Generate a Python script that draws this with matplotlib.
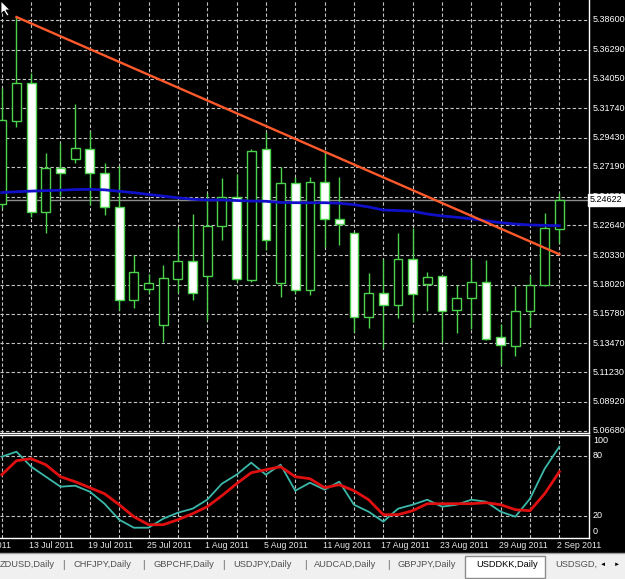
import numpy as np
import matplotlib
matplotlib.use('Agg')
import matplotlib.pyplot as plt
import matplotlib.transforms as mtransforms
from matplotlib.patches import Rectangle, Polygon

plt.rcParams['font.family'] = ['Liberation Sans', 'DejaVu Sans']

# USDDKK daily candles (bar 0 .. bar 38, last bar = 2 Sep 2011)
opens = [5.2430, 5.3075, 5.3370, 5.2368, 5.2710, 5.2780, 5.2857, 5.2671, 5.2407, 5.1684,
         5.1769, 5.1490, 5.1847, 5.1987, 5.1870, 5.2259, 5.2484, 5.1839, 5.2857, 5.1816,
         5.2593, 5.1762, 5.2601, 5.2313, 5.2205, 5.1552, 5.1738, 5.1645, 5.2002, 5.1808,
         5.1870, 5.1606, 5.1699, 5.1824, 5.1396, 5.1326, 5.1598, 5.1800, 5.2236]
highs = [5.3332, 5.3883, 5.3448, 5.2826, 5.2904, 5.3207, 5.2997, 5.2749, 5.2725, 5.2034,
         5.1886, 5.1956, 5.2251, 5.2352, 5.2515, 5.2632, 5.2663, 5.2857, 5.2990, 5.2718,
         5.2640, 5.2640, 5.2826, 5.2640, 5.2212, 5.1894, 5.2002, 5.2205, 5.2243, 5.1901,
         5.1878, 5.1800, 5.2002, 5.1995, 5.1497, 5.1793, 5.1878, 5.2360, 5.2515]
lows = [5.2399, 5.3028, 5.2329, 5.2205, 5.2492, 5.2749, 5.2422, 5.2344, 5.1606, 5.1622,
        5.1738, 5.1357, 5.1738, 5.1684, 5.1528, 5.2150, 5.1824, 5.1824, 5.2072, 5.1707,
        5.1738, 5.1723, 5.2096, 5.2111, 5.1435, 5.1466, 5.1311, 5.1544, 5.1513, 5.1598,
        5.1357, 5.1427, 5.1458, 5.1376, 5.1179, 5.1249, 5.1474, 5.1795, 5.2127]
closes = [5.3083, 5.3370, 5.2368, 5.2710, 5.2671, 5.2865, 5.2671, 5.2407, 5.1684, 5.1901,
          5.1816, 5.1855, 5.1987, 5.1738, 5.2259, 5.2484, 5.1847, 5.2842, 5.2150, 5.2593,
          5.1762, 5.2601, 5.2313, 5.2274, 5.1552, 5.1738, 5.1645, 5.2002, 5.1730, 5.1863,
          5.1598, 5.1699, 5.1824, 5.1381, 5.1334, 5.1598, 5.1800, 5.2243, 5.24622]

# moving average (blue)
ma = [5.2519, 5.2525, 5.2530, 5.2534, 5.2537, 5.2542, 5.2544, 5.2540, 5.2529, 5.2518,
      5.2504, 5.2491, 5.2478, 5.2467, 5.2461, 5.2461, 5.2457, 5.2453, 5.2451, 5.2442,
      5.2440, 5.2440, 5.2440, 5.2436, 5.2425, 5.2407, 5.2383, 5.2379, 5.2374, 5.2352,
      5.2337, 5.2327, 5.2315, 5.2299, 5.2285, 5.2274, 5.2267, 5.2264, 5.2261]

# stochastic %K and %D
stoch_k = [79, 84, 69, 59, 49, 50, 44, 32, 16, 8, 8, 17, 23, 27, 36, 52, 61, 73, 61, 71,
           45, 53, 46, 54, 31, 24, 14, 27, 31, 36, 29, 31, 36, 34, 24, 19, 37, 67, 89]
stoch_d = [61, 75, 77, 71, 59, 54, 48, 42, 31, 19, 11, 11, 16, 22, 29, 40, 52, 63, 66, 69,
           59, 57, 48, 51, 45, 36, 21, 21, 25, 32, 32, 32, 32, 33, 31, 26, 25, 42, 64]

# trend line: from bar 1 high to bar 38
trend_x = [1, 38]
trend_y = [5.3883, 5.2039]

current_price = 5.24622
price_levels = [5.38600, 5.36290, 5.34050, 5.31740, 5.29430, 5.27190, 5.24880, 5.22640,
                5.20330, 5.18020, 5.15780, 5.13470, 5.11230, 5.08920, 5.06680]
stoch_levels = [100, 80, 20, 0]

date_bars = [-2, 2, 6, 10, 14, 18, 22, 26, 30, 34, 38]
date_labels = ['7 Jul 2011', '13 Jul 2011', '19 Jul 2011', '25 Jul 2011', '1 Aug 2011',
               '5 Aug 2011', '11 Aug 2011', '17 Aug 2011', '23 Aug 2011', '29 Aug 2011',
               '2 Sep 2011']

tabs = ['ZDUSD,Daily', 'CHFJPY,Daily', 'GBPCHF,Daily', 'USDJPY,Daily',
        'AUDCAD,Daily', 'GBPJPY,Daily', 'USDDKK,Daily', 'USDSGD,']
tab_x = [0, 73, 153, 233, 314, 397, 476, 555]

W, H = 625, 579
fig = plt.figure(figsize=(W / 100, H / 100), dpi=100, facecolor='black')


def fx(x):
    return x / W


def fy(y):
    return 1 - y / H


ax = fig.add_axes([0, fy(432.5), fx(588.7), 432.5 / H])
ax2 = fig.add_axes([0, fy(538), fx(588.7), (538 - 435) / H])

green = '#4cd24c'
grid_col = '#c4c4c4'
dash = (0, (3, 2))
xs = np.arange(len(opens))

for a in (ax, ax2):
    a.set_facecolor('black')
    a.set_xlim(-0.123, 40.0)
    a.set_xticks([])
    a.set_yticks([])
    for s in a.spines.values():
        s.set_color('white')
        s.set_linewidth(1)
    a.spines['left'].set_visible(False)
    for k in range(0, 40, 2):
        a.axvline(k, color=grid_col, lw=0.8, ls=dash, zorder=1)
ax.spines['top'].set_visible(False)

# main pane
ax.set_ylim(5.0654, 5.40154)
for lv in price_levels:
    ax.axhline(lv, color=grid_col, lw=0.8, ls=dash, zorder=1)
ax.axhline(current_price, color='#8c8c8c', lw=1, zorder=2)

for i in xs:
    o, h, l, c = opens[i], highs[i], lows[i], closes[i]
    fill = 'white' if c < o else 'black'
    ax.vlines(i, l, h, color=green, lw=1, zorder=3)
    ax.bar(i, c - o, bottom=o, width=0.6, facecolor=fill, edgecolor=green, lw=1, zorder=4)

ax.plot(xs, ma, color='#1010c8', lw=2, zorder=5)
ax.plot(trend_x, trend_y, color='#ff5a2a', lw=1.7, zorder=6)

trans = mtransforms.blended_transform_factory(fig.transFigure, ax.transData)
for lv in price_levels:
    ax.text(fx(593), lv, '%.5f' % lv, transform=trans, color='white', fontsize=6.5,
            va='center', ha='left', clip_on=False)
ax.text(fx(590), current_price, '%.5f' % current_price, transform=trans, color='black',
        fontsize=6.5, va='center', ha='left', clip_on=False, zorder=10,
        bbox=dict(boxstyle='square,pad=0.2', fc='white', ec='white'))

# stochastic pane
ax2.set_ylim(-2.3, 100.7)
for lv in (80, 20):
    ax2.axhline(lv, color=grid_col, lw=0.8, ls=dash, zorder=1)
ax2.plot(xs, stoch_k, color='#3cb8aa', lw=1.3, zorder=3)
ax2.plot(xs, stoch_d, color='#e01010', lw=2, zorder=4)

trans2 = mtransforms.blended_transform_factory(fig.transFigure, ax2.transData)
vas = {100: 'top', 80: 'center', 20: 'center', 0: 'bottom'}
for lv in stoch_levels:
    ax2.text(fx(593), lv, str(lv), transform=trans2, color='white', fontsize=6.5,
             va=vas[lv], ha='left', clip_on=False)

# date labels
trans3 = mtransforms.blended_transform_factory(ax2.transData, fig.transFigure)
for b, t in zip(date_bars, date_labels):
    ax2.text(b - 0.13, fy(546), t, transform=trans3, color='#e6e6e6', fontsize=6.3,
             va='center', ha='left', clip_on=False)

# tab bar
fig.patches.append(Rectangle((0, 0), 1, fy(553), transform=fig.transFigure,
                             fc='#f0f0f0', ec='none', zorder=0))
fig.add_artist(plt.Line2D([0, 1], [fy(553), fy(553)], transform=fig.transFigure,
                          color='#a0a0a0', lw=1))
fig.patches.append(Rectangle((fx(465), fy(578)), fx(80), 22 / H, transform=fig.transFigure,
                             fc='white', ec='#8c8c8c', lw=1, zorder=1))
for t, x in zip(tabs, tab_x):
    fig.text(fx(x), fy(564.5), t, color='black' if t == 'USDDKK,Daily' else '#505050',
             fontsize=6.7, va='center', ha='left')
for x in (63, 143, 223, 305, 388):
    fig.text(fx(x), fy(564.5), '|', color='#707070', fontsize=7.5, va='center', ha='center')
fig.text(fx(603), fy(564.5), '\u25c4', color='black', fontsize=4.5, va='center', ha='center')
fig.text(fx(617), fy(564.5), '\u25ba', color='black', fontsize=4.5, va='center', ha='center')

# mouse cursor
pts = [(1, 1), (1, 14), (4, 11), (7, 16), (9, 15), (6, 10), (10, 10)]
fig.patches.append(Polygon([(fx(x), fy(y)) for x, y in pts], closed=True,
                           transform=fig.transFigure, fc='white', ec='black', lw=0.6, zorder=20))

fig.savefig('out.png', dpi=100, facecolor='black')
